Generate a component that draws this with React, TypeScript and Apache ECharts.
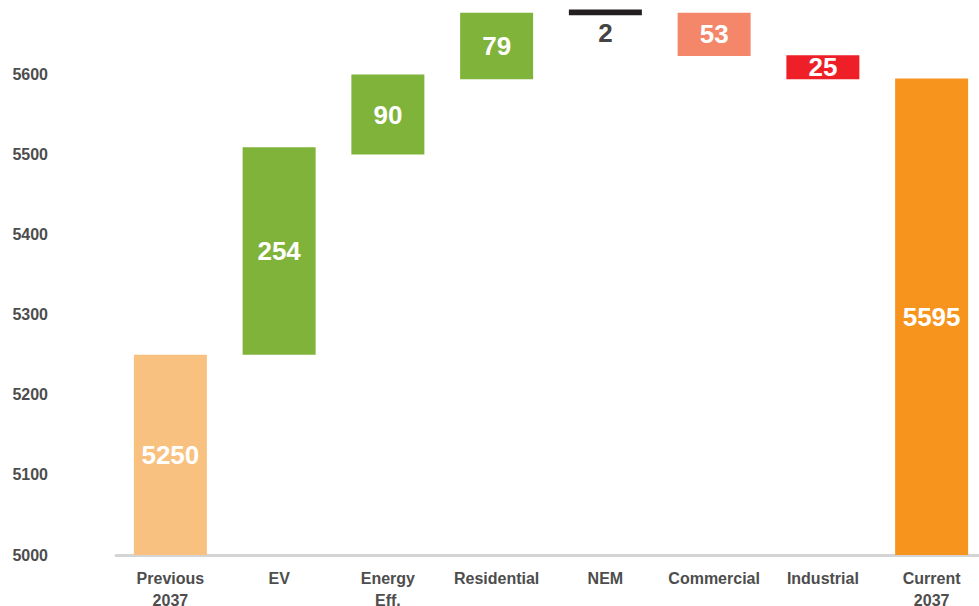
import React, { useEffect, useRef } from "react";
import * as echarts from "echarts";

const categories = ["Previous\n2037", "EV", "Energy\nEff.", "Residential", "NEM", "Commercial", "Industrial", "Current\n2037"];
const barLows = [5000, 5250, 5500, 5594, 5674, 5623, 5594, 5000];
const barHighs = [5250, 5509, 5600, 5677, 5681, 5677, 5624, 5595];
const barLabels = ["5250", "254", "90", "79", "2", "53", "25", "5595"];
const barColors = ["#F9C180", "#80B33A", "#80B33A", "#80B33A", "#231F20", "#F4876A", "#EE1F26", "#F7941E"];
const yTicks = [5000, 5100, 5200, 5300, 5400, 5500, 5600];

export default function App() {
  const ref = useRef<HTMLDivElement>(null);
  useEffect(() => {
    if (!ref.current) return;
    const chart = echarts.init(ref.current, null, { renderer: "svg" });
    const font = "'Liberation Sans', Arial, sans-serif";
    chart.setOption({
      animation: false,
      textStyle: { fontFamily: font },
      grid: { left: 116, top: 0, width: 870, height: 555, outerBoundsMode: "none", containLabel: false },
      xAxis: {
        type: "category",
        data: categories,
        axisLine: { lineStyle: { color: "#d4d4d4", width: 3 } },
        axisTick: { show: false },
        axisLabel: {
          color: "#4d4d4d",
          fontWeight: "bold",
          fontSize: 16,
          lineHeight: 22,
          margin: 12,
          fontFamily: font,
          interval: 0,
        },
      },
      yAxis: {
        type: "value",
        min: 5000,
        max: 5693,
        interval: 100,
        splitLine: { show: false },
        axisLine: { show: false },
        axisTick: { show: false },
        axisLabel: {
          color: "#4d4d4d",
          fontWeight: "bold",
          fontSize: 16,
          margin: 68,
          fontFamily: font,
          showMaxLabel: false,
          formatter: (v: number) => (yTicks.includes(Math.round(v)) ? String(Math.round(v)) : ""),
        },
      },
      series: [
        {
          type: "bar",
          stack: "w",
          barWidth: 73,
          silent: true,
          itemStyle: { color: "transparent" },
          data: barLows,
        },
        {
          type: "bar",
          stack: "w",
          barWidth: 73,
          data: barHighs.map((h, i) => ({
            value: h - barLows[i],
            itemStyle: { color: barColors[i] },
            label:
              barLabels[i] === "2"
                ? { show: true, position: "bottom", distance: 5, color: "#444444" }
                : { show: true, position: "inside", color: "#ffffff" },
          })),
          label: {
            show: true,
            fontSize: 26,
            fontWeight: "bold",
            fontFamily: font,
            formatter: (p: any) => barLabels[p.dataIndex],
          },
        },
      ],
    });
    return () => chart.dispose();
  }, []);
  return <div ref={ref} style={{ width: 979, height: 606, position: "absolute", left: 0, top: 0 }} />;
}
